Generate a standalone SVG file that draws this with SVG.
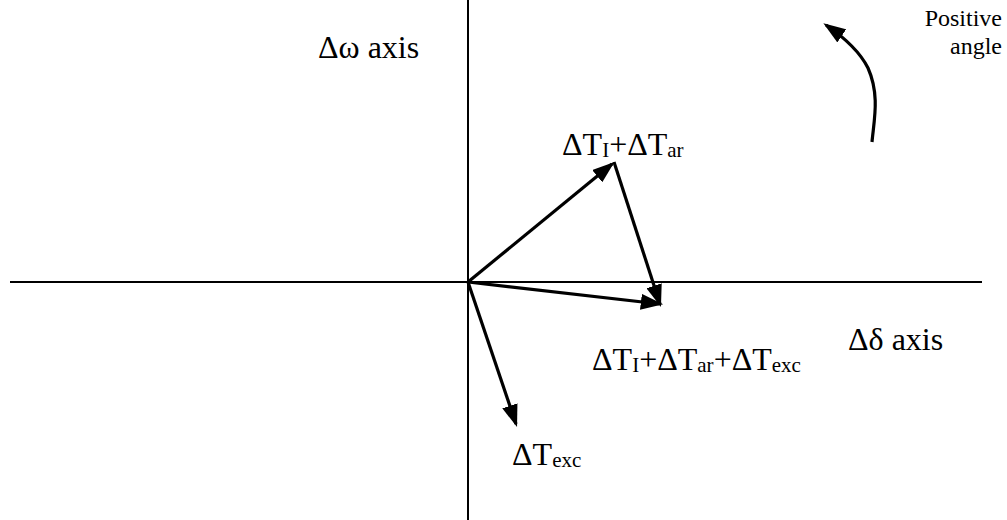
<svg xmlns="http://www.w3.org/2000/svg" width="1007" height="520" viewBox="0 0 1007 520">
<defs>
<marker id="ah" markerWidth="7" markerHeight="5" refX="6" refY="2.5" orient="auto" markerUnits="strokeWidth">
<path d="M0,0 L7,2.5 L0,5 Z" fill="#000"/>
</marker>
</defs>
<g id="axes" stroke="#000" stroke-width="2" fill="none">
<line x1="468" y1="0" x2="468" y2="520"/>
<line x1="10" y1="282" x2="982" y2="282"/>
</g>
<g id="connectors" stroke="#000" stroke-width="3.2" fill="none">
<line x1="468" y1="282" x2="612" y2="164" marker-end="url(#ah)"/>
<line x1="614" y1="162" x2="660" y2="304" marker-end="url(#ah)"/>
<line x1="468" y1="282" x2="660" y2="304" marker-end="url(#ah)"/>
<line x1="468" y1="282" x2="516" y2="424" marker-end="url(#ah)"/>
<path d="M872,142 C874,120 880,95 868,68 C860,52 845,38 826,25" marker-end="url(#ah)"/>
</g>
<g font-family="'Liberation Serif','Times New Roman',serif" fill="#000" font-size="32">
<g id="label-omega"><text x="318" y="58">Δω axis</text></g>
<g id="label-delta"><text x="848" y="350">Δδ axis</text></g>
<g id="label-positive" font-size="24">
<text x="1002" y="26" text-anchor="end">Positive</text>
<text x="1002" y="54" text-anchor="end">angle</text>
</g>
<g id="label-tiar"><text x="562" y="155">ΔT<tspan font-size="21" dy="2">I</tspan><tspan dy="-2">+ΔT</tspan><tspan font-size="21" dy="2">ar</tspan></text></g>
<g id="label-sum"><text x="592" y="370">ΔT<tspan font-size="21" dy="2">I</tspan><tspan dy="-2">+ΔT</tspan><tspan font-size="21" dy="2">ar</tspan><tspan dy="-2">+ΔT</tspan><tspan font-size="21" dy="2">exc</tspan></text></g>
<g id="label-exc"><text x="512" y="465">ΔT<tspan font-size="21" dy="2">exc</tspan></text></g>
</g>
</svg>
